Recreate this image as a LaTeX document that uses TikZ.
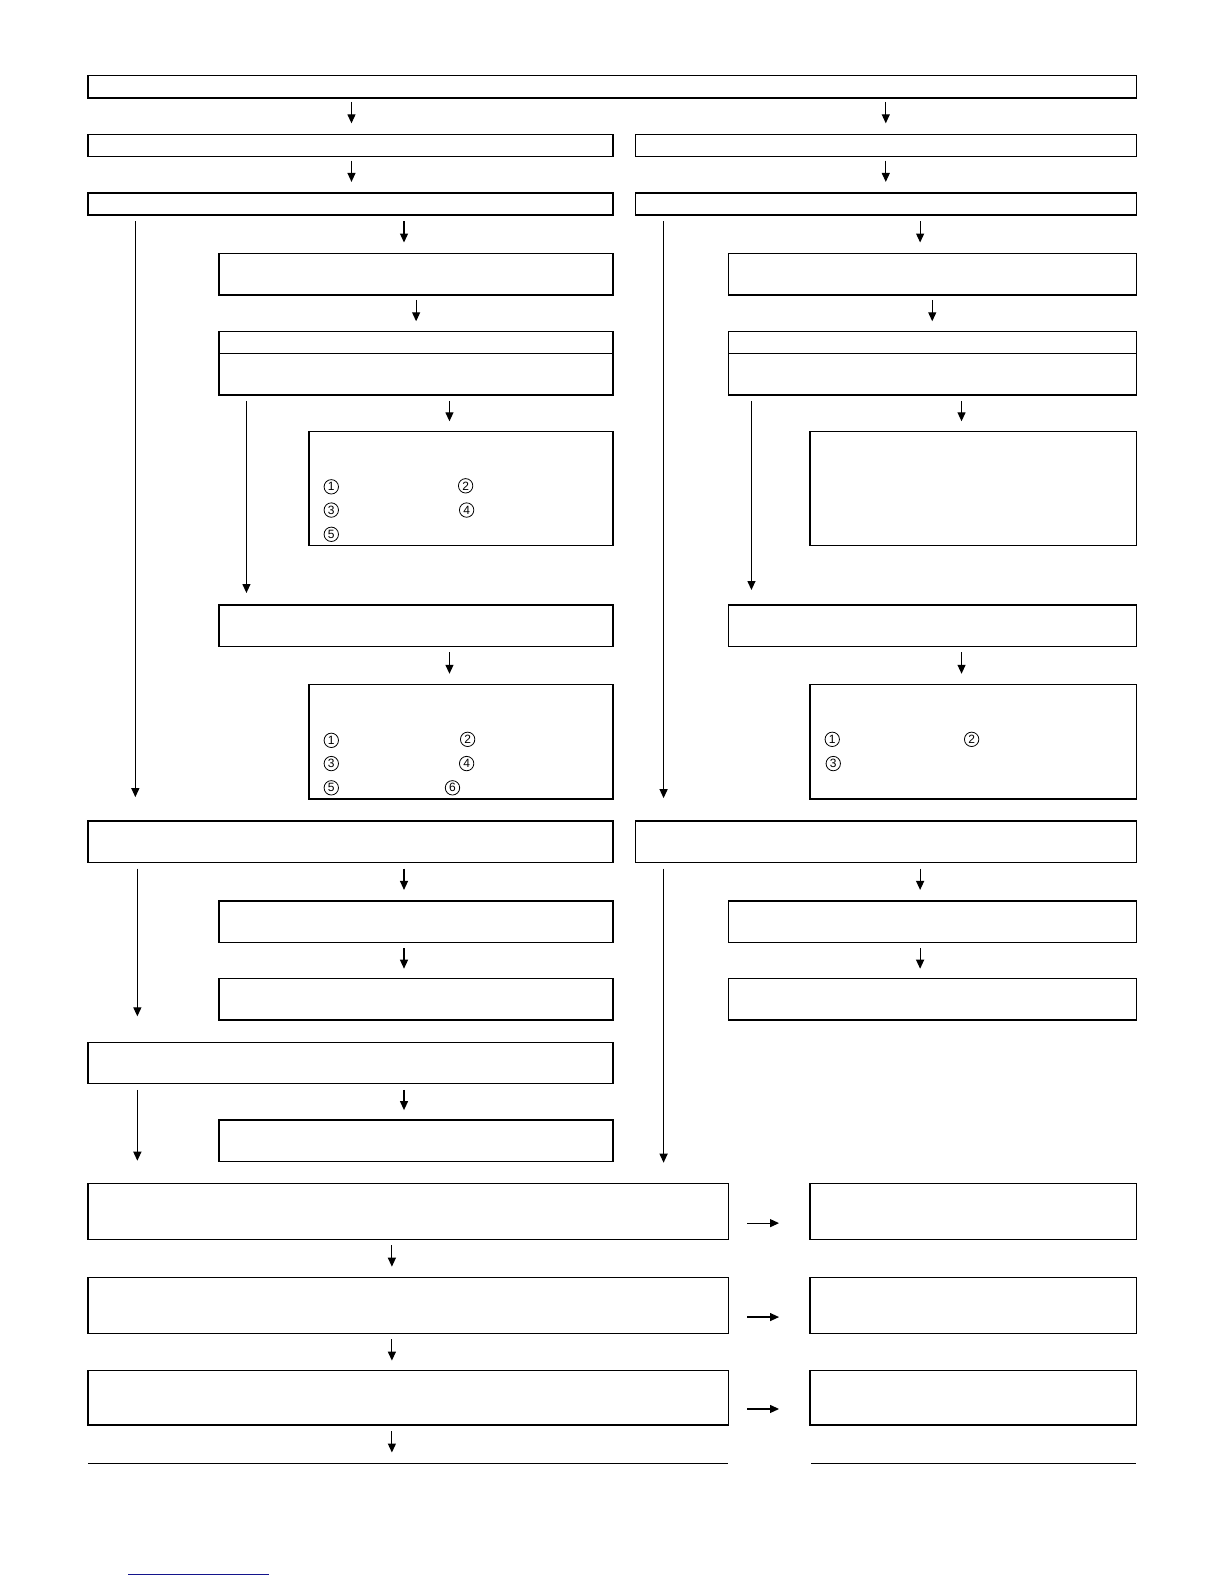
\documentclass[tikz,border=0pt]{standalone}
\usepackage{fontspec}
\newfontfamily\numfont{Liberation Sans}
\usetikzlibrary{fit,arrows.meta}
\definecolor{linkblue}{RGB}{20,20,140}
\tikzset{
  box/.style={draw, line width=0.7pt, inner sep=0pt, outer sep=0pt},
  arr/.style={line width=0.6pt, -{Triangle[length=4.5pt,width=4pt]}},
  num/.style={circle, draw, line width=0.4pt, inner sep=0pt, minimum size=7.2pt, font=\numfont\fontsize{6}{6}\selectfont},
}
\newcommand{\bx}[5]{\node[box, fit={(#2,#3)(#4,#5)}] (#1) {};}
\newcommand{\va}[5]{\draw[arr, shorten <=#4*0.5pt, shorten >=#5*0.5pt] (#1.south -| #3,0) -- (#2.north -| #3,0);}
\begin{document}
\begin{tikzpicture}[x=0.505pt,y=-0.505pt]
\useasboundingbox (0pt,0pt) rectangle (612pt,-792pt);
% top
\bx{top}{87}{75}{1125}{97}
\bx{ra}{87}{133}{607}{155}
\bx{rb}{629}{133}{1125}{155}
\bx{sa}{87}{191}{607}{213}
\bx{sb}{629}{191}{1125}{213}
\va{top}{ra}{348}{4}{11}
\va{top}{rb}{877}{4}{11}
\va{ra}{sa}{348}{4}{11}
\va{rb}{sb}{877}{4}{11}
% left column
\bx{la}{217}{251}{607}{292}
\bx{lb}{217}{328}{607}{391}
\draw[line width=0.7pt] (lb.west |- 0,350) -- (lb.east |- 0,350);
\bx{lc}{306}{427}{607}{540}
\bx{ld}{217}{599}{607}{640}
\bx{le}{306}{678}{607}{791}
\bx{lf}{87}{813}{607}{854}
\bx{lg}{217}{892}{607}{933}
\bx{lh}{217}{969}{607}{1010}
\bx{li}{87}{1032}{607}{1073}
\bx{lj}{217}{1109}{607}{1150}
% right column
\bx{qa}{721}{251}{1125}{292}
\bx{qb}{721}{328}{1125}{391}
\draw[line width=0.7pt] (qb.west |- 0,350) -- (qb.east |- 0,350);
\bx{qc}{802}{427}{1125}{540}
\bx{qd}{721}{599}{1125}{640}
\bx{qe}{802}{678}{1125}{791}
\bx{qf}{629}{813}{1125}{854}
\bx{qg}{721}{892}{1125}{933}
\bx{qh}{721}{969}{1125}{1010}
% bottom
\bx{ba}{87}{1172}{721}{1227}
\bx{bb}{87}{1265}{721}{1320}
\bx{bc}{87}{1357}{721}{1411}
\bx{ta}{802}{1172}{1125}{1227}
\bx{tb}{802}{1265}{1125}{1320}
\bx{tc}{802}{1357}{1125}{1411}
\coordinate (endL) at (87,1449);
\coordinate (endR) at (721,1449);
\coordinate (endS) at (803,1449);
\coordinate (endT) at (1125,1449);
\draw[line width=0.7pt] (endL) -- (endR);
\draw[line width=0.7pt] (endS) -- (endT);
% left arrows
\va{sa}{la}{400}{6}{11}
\va{sa}{lf}{134}{6}{24}
\va{la}{lb}{412}{5}{10}
\va{lb}{ld}{244}{6}{12}
\va{lb}{lc}{445}{6}{10}
\va{ld}{le}{445}{6}{11}
\va{lf}{li}{136}{6}{26}
\va{lf}{lg}{400}{6}{11}
\va{lg}{lh}{400}{6}{10}
\va{li}{ba}{136}{6}{23}
\va{li}{lj}{400}{6}{10}
% right arrows
\va{sb}{qa}{911}{6}{11}
\va{sb}{qf}{657}{6}{23}
\va{qa}{qb}{923}{5}{10}
\va{qb}{qd}{744}{6}{15}
\va{qb}{qc}{952}{6}{10}
\va{qd}{qe}{952}{6}{11}
\va{qf}{ba}{657}{6}{21}
\va{qf}{qg}{911}{6}{11}
\va{qg}{qh}{911}{6}{10}
% bottom arrows
\va{ba}{bb}{388}{6}{11}
\va{bb}{bc}{388}{6}{10}
\draw[arr, shorten <=3pt, shorten >=5.5pt] (bc.south -| 388,0) -- (endL -| 388,0);
\draw[arr, shorten <=9.5pt, shorten >=15.5pt] (ba.east |- 0,1211) -- (ta.west |- 0,1211);
\draw[arr, shorten <=9.5pt, shorten >=15.5pt] (bb.east |- 0,1304) -- (tb.west |- 0,1304);
\draw[arr, shorten <=9.5pt, shorten >=15.5pt] (bc.east |- 0,1395) -- (tc.west |- 0,1395);
% circled numbers
\node[num] (c1) at (328,482) {1};
\node[num] (c2) at (461,481) {2};
\node[num] (c3) at (328,505) {3};
\node[num] (c4) at (462,505) {4};
\node[num] (c5) at (328,529) {5};
\node[num] (d1) at (328,733) {1};
\node[num] (d2) at (463,732) {2};
\node[num] (d3) at (328,756) {3};
\node[num] (d4) at (462,756) {4};
\node[num] (d5) at (328,780) {5};
\node[num] (d6) at (448,780) {6};
\node[num] (e1) at (824,732) {1};
\node[num] (e2) at (962,732) {2};
\node[num] (e3) at (825,756) {3};
% link underline
\coordinate (u1) at (127,1559);
\coordinate (u2) at (266,1559);
\draw[linkblue, line width=0.7pt] (u1) -- (u2);
\end{tikzpicture}
\end{document}
